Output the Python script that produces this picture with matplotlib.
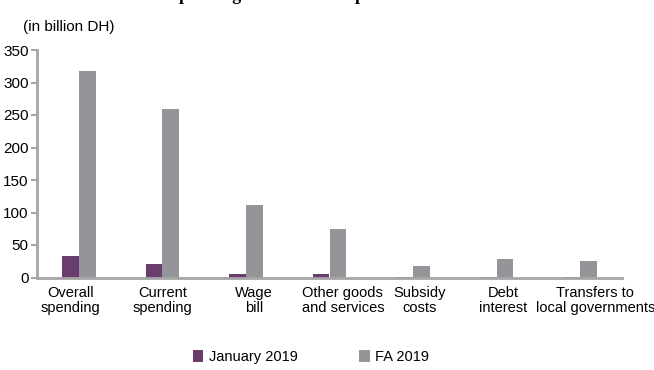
import numpy as np
import matplotlib.pyplot as plt

categories = ["Overall\nspending", "Current\nspending", "Wage\nbill",
              "Other goods\nand services", "Subsidy\ncosts", "Debt\ninterest",
              "Transfers to\nlocal governments"]
jan_2019 = [33, 20.5, 6, 6, 0.3, 1.5, 0.2]
fa_2019 = [317, 260, 111, 75, 17, 28, 25.5]
y_ticks = [0, 50, 100, 150, 200, 250, 300, 350]

plt.rcParams['font.family'] = ['Liberation Sans', 'DejaVu Sans']

purple = '#6b3d6e'
grey = '#939598'
axis_col = '#a6a6a6'

fig = plt.figure(figsize=(6.54, 3.70), dpi=100)
ax = fig.add_axes([37/654, 1 - 277.5/370, 585/654, 227.5/370])

x = np.arange(len(categories))
w = 0.2
ax.bar(x - w/2, jan_2019, w, color=purple, label='January 2019')
ax.bar(x + w/2, fa_2019, w, color=grey, label='FA 2019')

ax.set_xlim(-0.5, len(categories) - 0.5)
ax.set_ylim(0, 350)
ax.set_yticks(y_ticks)
ax.set_yticklabels([str(v) for v in y_ticks], fontsize=11)

# label centres drift a little from the bar pairs
label_shift = np.array([-0.1, 0.0, 0.1, 0.16, 0.08, 0.08, 0.18])
ax.set_xticks(x + label_shift)
ax.set_xticklabels(categories, fontsize=10.5, linespacing=1.15)
ax.tick_params(axis='x', length=0, pad=6)
ax.tick_params(axis='y', length=4, width=1.5, color=axis_col, pad=2)

for side in ['top', 'right']:
    ax.spines[side].set_visible(False)
for side in ['left', 'bottom']:
    ax.spines[side].set_color(axis_col)
    ax.spines[side].set_linewidth(2)

fig.text(23/654, 1 - 27/370, "(in billion DH)", fontsize=11, va='center')

# title baseline sits on the top edge, only descenders show
fig.text(0.5, 1.0, "Spending execution compared to FA 2019",
         fontsize=13, fontweight='bold', family='Liberation Serif',
         ha='center', va='baseline')

fig.legend(loc='center', bbox_to_anchor=(0.476, 1 - 357/370), ncol=2,
           frameon=False, fontsize=10.5, handlelength=0.7, handleheight=0.9,
           columnspacing=4.2, handletextpad=0.4)

fig.savefig('out.png', dpi=100)
